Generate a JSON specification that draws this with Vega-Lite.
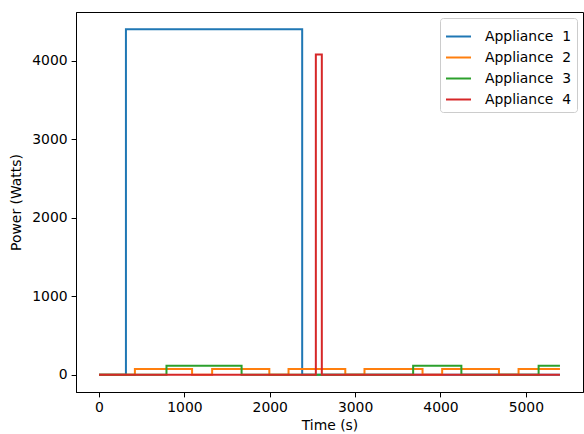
{
  "$schema": "https://vega.github.io/schema/vega-lite/v6.json",
  "width": 507,
  "height": 380,
  "autosize": {"type": "none"},
  "padding": {"left": 76, "top": 12, "right": 1, "bottom": 42},
  "background": "white",
  "config": {
    "font": "DejaVu Sans",
    "view": {"stroke": "black", "strokeWidth": 1},
    "axis": {
      "grid": false,
      "domainColor": "black",
      "tickColor": "black",
      "tickSize": 4.9,
      "labelColor": "black",
      "labelFontSize": 13.9,
      "labelFont": "DejaVu Sans",
      "titleFont": "DejaVu Sans",
      "titleFontSize": 13.9,
      "titleFontWeight": "normal",
      "titleColor": "black",
      "labelPadding": 4,
      "format": "d"
    }
  },
  "data": {
    "values": [
      {"t": 0, "p": 0, "s": "Appliance \u00a01"},
      {"t": 315, "p": 4400, "s": "Appliance \u00a01"},
      {"t": 2380, "p": 0, "s": "Appliance \u00a01"},
      {"t": 5400, "p": 0, "s": "Appliance \u00a01"},
      {"t": 0, "p": 0, "s": "Appliance \u00a02"},
      {"t": 420, "p": 72, "s": "Appliance \u00a02"},
      {"t": 1090, "p": 0, "s": "Appliance \u00a02"},
      {"t": 1325, "p": 72, "s": "Appliance \u00a02"},
      {"t": 1995, "p": 0, "s": "Appliance \u00a02"},
      {"t": 2220, "p": 72, "s": "Appliance \u00a02"},
      {"t": 2885, "p": 0, "s": "Appliance \u00a02"},
      {"t": 3110, "p": 72, "s": "Appliance \u00a02"},
      {"t": 3790, "p": 0, "s": "Appliance \u00a02"},
      {"t": 4020, "p": 72, "s": "Appliance \u00a02"},
      {"t": 4685, "p": 0, "s": "Appliance \u00a02"},
      {"t": 4915, "p": 72, "s": "Appliance \u00a02"},
      {"t": 5400, "p": 72, "s": "Appliance \u00a02"},
      {"t": 0, "p": 0, "s": "Appliance \u00a03"},
      {"t": 790, "p": 115, "s": "Appliance \u00a03"},
      {"t": 1670, "p": 0, "s": "Appliance \u00a03"},
      {"t": 3680, "p": 115, "s": "Appliance \u00a03"},
      {"t": 4245, "p": 0, "s": "Appliance \u00a03"},
      {"t": 5150, "p": 115, "s": "Appliance \u00a03"},
      {"t": 5400, "p": 115, "s": "Appliance \u00a03"},
      {"t": 0, "p": 0, "s": "Appliance \u00a04"},
      {"t": 2540, "p": 4080, "s": "Appliance \u00a04"},
      {"t": 2610, "p": 0, "s": "Appliance \u00a04"},
      {"t": 5400, "p": 0, "s": "Appliance \u00a04"}
    ]
  },
  "mark": {"type": "line", "interpolate": "step-after", "strokeWidth": 2, "clip": true},
  "encoding": {
    "x": {
      "field": "t", "type": "quantitative",
      "scale": {"domain": [-270, 5670], "nice": false, "zero": false},
      "axis": {"values": [0, 1000, 2000, 3000, 4000, 5000], "title": "Time (s)", "titlePadding": 4}
    },
    "y": {
      "field": "p", "type": "quantitative",
      "scale": {"domain": [-220, 4620], "nice": false, "zero": false},
      "axis": {"values": [0, 1000, 2000, 3000, 4000], "title": "Power (Watts)", "titlePadding": 8}
    },
    "color": {
      "field": "s", "type": "nominal",
      "scale": {
        "domain": ["Appliance \u00a01", "Appliance \u00a02", "Appliance \u00a03", "Appliance \u00a04"],
        "range": ["#1f77b4", "#ff7f0e", "#2ca02c", "#d62728"]
      },
      "legend": {
        "title": null,
        "orient": "top-right",
        "offset": 6,
        "symbolType": "stroke",
        "symbolStrokeWidth": 2,
        "symbolSize": 625,
        "labelFontSize": 13.9,
        "labelFont": "DejaVu Sans",
        "labelColor": "black",
        "labelOffset": 13,
        "rowPadding": 0,
        "padding": 5,
        "strokeColor": "#cccccc",
        "fillColor": "white",
        "cornerRadius": 3
      }
    },
    "order": {"field": "t"}
  }
}
